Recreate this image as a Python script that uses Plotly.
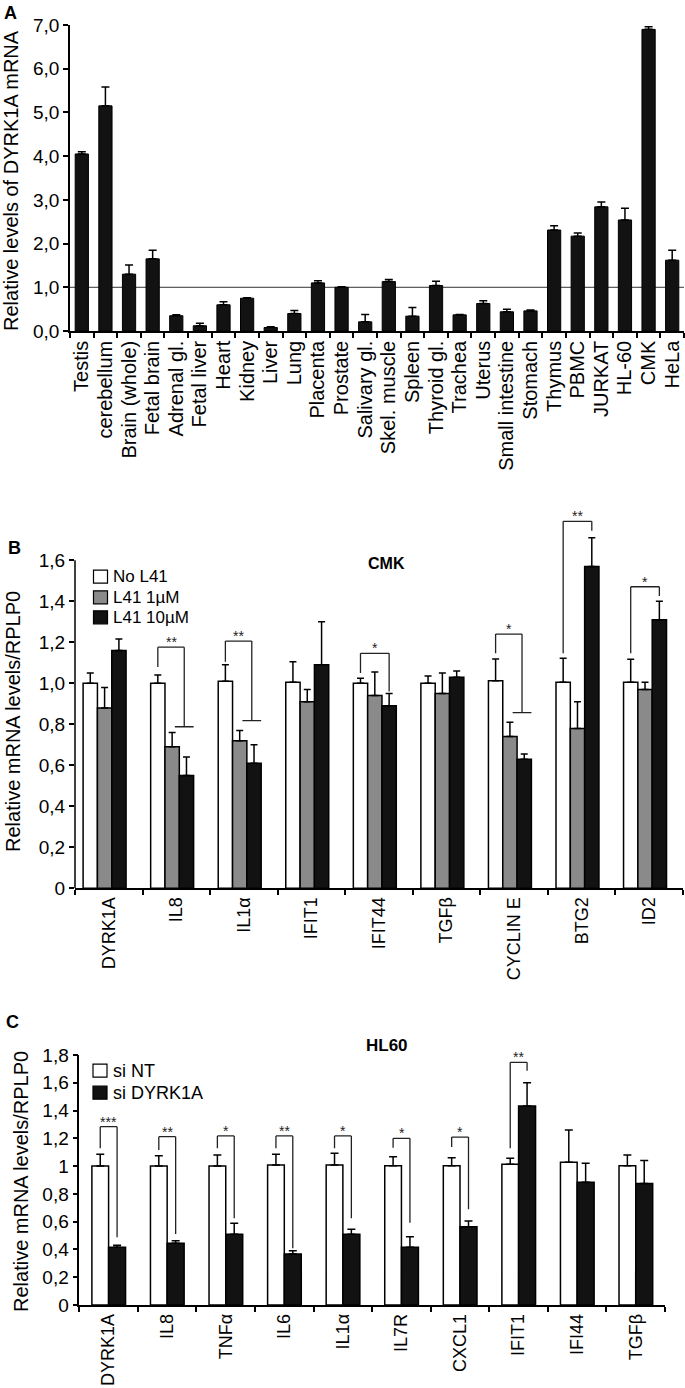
import plotly.graph_objects as go

W, H = 685, 1388


def px(x):
    return x / W


def py(y):
    return 1 - y / H


FONT = "Liberation Sans, Arial, Helvetica, sans-serif"
BLACK = "#121212"
GRAY = "#8a8a8a"

# ---------------- Panel A data ----------------
tissues = ["Testis", "cerebellum", "Brain (whole)", "Fetal brain", "Adrenal gl.",
           "Fetal liver", "Heart", "Kidney", "Liver", "Lung", "Placenta", "Prostate",
           "Salivary gl.", "Skel. muscle", "Spleen", "Thyroid gl.", "Trachea", "Uterus",
           "Small intestine", "Stomach", "Thymus", "PBMC", "JURKAT", "HL-60", "CMK", "HeLa"]
dyrk1a_levels = [4.05, 5.15, 1.30, 1.65, 0.35, 0.12, 0.60, 0.75, 0.08, 0.40, 1.10, 1.00,
                 0.21, 1.13, 0.34, 1.04, 0.37, 0.63, 0.44, 0.46, 2.31, 2.17, 2.84, 2.54,
                 6.90, 1.62]
dyrk1a_err = [0.05, 0.43, 0.21, 0.20, 0.02, 0.06, 0.07, 0.01, 0.02, 0.07, 0.05, 0.01,
              0.17, 0.05, 0.20, 0.10, 0.01, 0.06, 0.06, 0.02, 0.10, 0.07, 0.11, 0.27,
              0.06, 0.23]
a_ticks = [0, 1, 2, 3, 4, 5, 6, 7]
a_ticktext = ["0,0", "1,0", "2,0", "3,0", "4,0", "5,0", "6,0", "7,0"]

# ---------------- Panel B data (CMK) ----------------
genes_b = ["DYRK1A", "IL8", "IL1α", "IFIT1", "IFIT44", "TGFβ", "CYCLIN E", "BTG2", "ID2"]
series_b = ["No L41", "L41 1µM", "L41 10µM"]
no_l41 = [1.00, 1.00, 1.01, 1.005, 1.00, 1.00, 1.013, 1.005, 1.005]
no_l41_err = [0.05, 0.04, 0.08, 0.10, 0.025, 0.036, 0.105, 0.117, 0.112]
l41_1um = [0.88, 0.69, 0.72, 0.91, 0.94, 0.95, 0.74, 0.78, 0.97]
l41_1um_err = [0.10, 0.07, 0.05, 0.06, 0.115, 0.10, 0.07, 0.13, 0.035]
l41_10um = [1.16, 0.55, 0.61, 1.09, 0.89, 1.03, 0.63, 1.57, 1.31]
l41_10um_err = [0.056, 0.09, 0.09, 0.21, 0.06, 0.03, 0.025, 0.14, 0.09]
b_ticks = [0, 0.2, 0.4, 0.6, 0.8, 1.0, 1.2, 1.4, 1.6]
b_ticktext = ["0", "0,2", "0,4", "0,6", "0,8", "1,0", "1,2", "1,4", "1,6"]
# significance brackets: gene, left leg bottom, top, right leg bottom, label, end style
brackets_b = [
    ("IL8", 1.08, 1.176, 0.788, "**", "T"),
    ("IL1α", 1.105, 1.206, 0.818, "**", "T"),
    ("IFIT44", 1.05, 1.146, 0.96, "*", "bar"),
    ("CYCLIN E", 1.146, 1.24, 0.857, "*", "T"),
    ("BTG2", 1.147, 1.79, 1.744, "**", "bar"),
    ("ID2", 1.147, 1.471, 1.426, "*", "bar"),
]

# ---------------- Panel C data (HL60) ----------------
genes_c = ["DYRK1A", "IL8", "TNFα", "IL6", "IL1α", "IL7R", "CXCL1", "IFIT1", "IFI44", "TGFβ"]
series_c = ["si NT", "si DYRK1A"]
si_nt = [1.00, 1.00, 1.00, 1.008, 1.008, 1.003, 1.003, 1.013, 1.027, 1.003]
si_nt_err = [0.085, 0.075, 0.08, 0.077, 0.084, 0.065, 0.058, 0.043, 0.233, 0.077]
si_dyrk1a = [0.415, 0.444, 0.509, 0.367, 0.509, 0.415, 0.564, 1.433, 0.883, 0.874]
si_dyrk1a_err = [0.015, 0.019, 0.079, 0.024, 0.036, 0.077, 0.041, 0.167, 0.137, 0.166]
c_ticks = [0, 0.2, 0.4, 0.6, 0.8, 1.0, 1.2, 1.4, 1.6, 1.8]
c_ticktext = ["0", "0,2", "0,4", "0,6", "0,8", "1", "1,2", "1,4", "1,6", "1,8"]
brackets_c = [
    ("DYRK1A", 1.128, 1.284, 0.487, "***"),
    ("IL8", 1.116, 1.212, 0.511, "**"),
    ("TNFα", 1.128, 1.217, 0.624, "*"),
    ("IL6", 1.128, 1.217, 0.408, "**"),
    ("IL1α", 1.128, 1.217, 0.624, "*"),
    ("IL7R", 1.133, 1.20, 0.593, "*"),
    ("CXCL1", 1.138, 1.209, 0.689, "*"),
    ("IFIT1", 1.128, 1.747, 1.687, "**"),
]

fig = go.Figure()


def err(arr, w):
    return dict(type="data", array=arr, arrayminus=[0] * len(arr), symmetric=False,
                color="black", thickness=1.5, width=w)


# Panel A bars
fig.add_trace(go.Bar(x=tissues, y=dyrk1a_levels, width=0.56,
                     marker=dict(color=BLACK, line=dict(color="black", width=1)),
                     error_y=err(dyrk1a_err, 4), xaxis="x", yaxis="y", showlegend=False))

# Panel B bars
offs_b = [-0.38, -0.168, 0.044]
wb = 0.212
b_cols = ["white", GRAY, BLACK]
for name, vals, errs, col, off in zip(series_b, [no_l41, l41_1um, l41_10um],
                                      [no_l41_err, l41_1um_err, l41_10um_err], b_cols, offs_b):
    fig.add_trace(go.Bar(x=genes_b, y=vals, name=name, offset=off, width=wb,
                         marker=dict(color=col, line=dict(color="black", width=1.5)),
                         error_y=err(errs, 3.5), xaxis="x2", yaxis="y2", showlegend=False))

# Panel C bars
offs_c = [-0.285, 0.0]
wc = [0.285, 0.29]
c_cols = ["white", BLACK]
for name, vals, errs, col, off, w in zip(series_c, [si_nt, si_dyrk1a], [si_nt_err, si_dyrk1a_err],
                                         c_cols, offs_c, wc):
    fig.add_trace(go.Bar(x=genes_c, y=vals, name=name, offset=off, width=w,
                         marker=dict(color=col, line=dict(color="black", width=1.5)),
                         error_y=err(errs, 4), xaxis="x3", yaxis="y3", showlegend=False))

axis_common = dict(showgrid=False, zeroline=False, showline=True, linecolor="black", linewidth=1.5,
                   ticks="outside", ticklen=5, tickwidth=1.5, tickcolor="black", automargin=False)

fig.update_layout(
    width=W, height=H, margin=dict(l=0, r=0, t=0, b=0, autoexpand=False),
    paper_bgcolor="white", plot_bgcolor="white", barmode="overlay",
    font=dict(family=FONT, color="black"),
    xaxis=dict(axis_common, domain=[px(70), px(684)], anchor="y", type="category",
               range=[-0.5, 25.5], tickangle=-90, tickson="boundaries",
               tickmode="linear", tick0=0, dtick=1, tickfont=dict(size=20)),
    yaxis=dict(axis_common, domain=[py(331), py(25)], anchor="x", range=[0, 7],
               tickvals=a_ticks, ticktext=a_ticktext, tickfont=dict(size=19)),
    xaxis2=dict(axis_common, domain=[px(75), px(683)], anchor="y2", type="category",
                range=[-0.5, 8.5], tickangle=-90, tickson="boundaries",
                tickmode="linear", tick0=0, dtick=1, tickfont=dict(size=18)),
    yaxis2=dict(axis_common, showline=False, domain=[py(888.3), py(509.05)], anchor="x2",
                range=[0, 1.85], tickvals=b_ticks, ticktext=b_ticktext, tickfont=dict(size=19)),
    xaxis3=dict(axis_common, domain=[px(79.3), px(665)], anchor="y3", type="category",
                range=[-0.5, 9.5], tickangle=-90, tickson="boundaries",
                tickmode="linear", tick0=0, dtick=1, tickfont=dict(size=18)),
    yaxis3=dict(axis_common, domain=[py(1305), py(1055)], anchor="x3", range=[0, 1.8],
                tickvals=c_ticks, ticktext=c_ticktext, tickfont=dict(size=19)),
)

shapes = []
annos = []
LINE = dict(color="#222222", width=1.3)

# reference line at 1.0 in panel A
shapes.append(dict(type="line", xref="x domain", yref="y", x0=0, x1=1, y0=1, y1=1,
                   line=dict(color="#333333", width=1), layer="below"))
# y axis line for panel B (only up to 1.6)
shapes.append(dict(type="line", xref="paper", yref="y2", x0=px(75), x1=px(75), y0=0, y1=1.6,
                   line=dict(color="black", width=1.5)))


def seg(xr, yr, x0, y0, x1, y1):
    shapes.append(dict(type="line", xref=xr, yref=yr, x0=x0, x1=x1, y0=y0, y1=y1, line=LINE))


def star(xr, yr, x, y, t):
    annos.append(dict(xref=xr, yref=yr, x=x, y=y, text=t, showarrow=False, yanchor="bottom",
                      yshift=-5, font=dict(size=14, color="#222222")))


for gene, lb, top, rb, label, kind in brackets_b:
    i = genes_b.index(gene)
    xl = i + offs_b[0] + wb / 2
    if kind == "T":
        t0 = i + offs_b[1] + wb / 2 + 0.04
        t1 = i + offs_b[2] + wb
        xr = (t0 + t1) / 2
        seg("x2", "y2", t0, rb, t1, rb)
    else:
        xr = i + offs_b[2] + wb / 2
    seg("x2", "y2", xl, lb, xl, top)
    seg("x2", "y2", xl, top, xr, top)
    seg("x2", "y2", xr, top, xr, rb)
    star("x2", "y2", (xl + xr) / 2, top, label)

for gene, lb, top, rb, label in brackets_c:
    i = genes_c.index(gene)
    xl = i + offs_c[0] + wc[0] / 2
    xr = i + offs_c[1] + wc[1] / 2
    seg("x3", "y3", xl, lb, xl, top)
    seg("x3", "y3", xl, top, xr, top)
    seg("x3", "y3", xr, top, xr, rb)
    star("x3", "y3", (xl + xr) / 2, top, label)

# manual legends
for k, (name, col) in enumerate(zip(series_b, b_cols)):
    yc = [576.7, 597.3, 617.3][k]
    shapes.append(dict(type="rect", xref="paper", yref="paper", x0=px(93.5), x1=px(107.5),
                       y0=py(yc + 6.5), y1=py(yc - 6.5), fillcolor=col,
                       line=dict(color="black", width=1.2)))
    annos.append(dict(xref="paper", yref="paper", x=px(111), y=py(yc), text=name,
                      showarrow=False, xanchor="left", yanchor="middle", font=dict(size=17)))
for k, (name, col) in enumerate(zip(series_c, c_cols)):
    yc = [1070.7, 1092.7][k]
    shapes.append(dict(type="rect", xref="paper", yref="paper", x0=px(93), x1=px(107),
                       y0=py(yc + 6.5), y1=py(yc - 6.5), fillcolor=col,
                       line=dict(color="black", width=1.2)))
    annos.append(dict(xref="paper", yref="paper", x=px(111), y=py(yc), text=name,
                      showarrow=False, xanchor="left", yanchor="middle", font=dict(size=18)))


# titles, axis titles, panel letters
def text(x, y, t, size, bold=False, angle=0):
    annos.append(dict(xref="paper", yref="paper", x=px(x), y=py(y),
                      text=f"<b>{t}</b>" if bold else t, showarrow=False,
                      xanchor="center", yanchor="middle", textangle=angle,
                      font=dict(size=size)))


text(386, 563, "CMK", 16, bold=True)
text(387, 1045, "HL60", 17, bold=True)
text(10, 13, "A", 18, bold=True)
text(14, 548, "B", 18, bold=True)
text(12, 1022, "C", 18, bold=True)
text(11, 181, "Relative levels of DYRK1A mRNA", 20, angle=-90)
text(13, 722, "Relative mRNA levels/RPLP0", 20, angle=-90)
text(21, 1182, "Relative mRNA levels/RPLP0", 20, angle=-90)

fig.update_layout(shapes=shapes, annotations=annos)
fig.write_html("out.html", config={"displayModeBar": False},
               post_script="document.body.style.margin='0';document.body.style.padding='0';"
                           "document.documentElement.style.overflow='hidden';")
